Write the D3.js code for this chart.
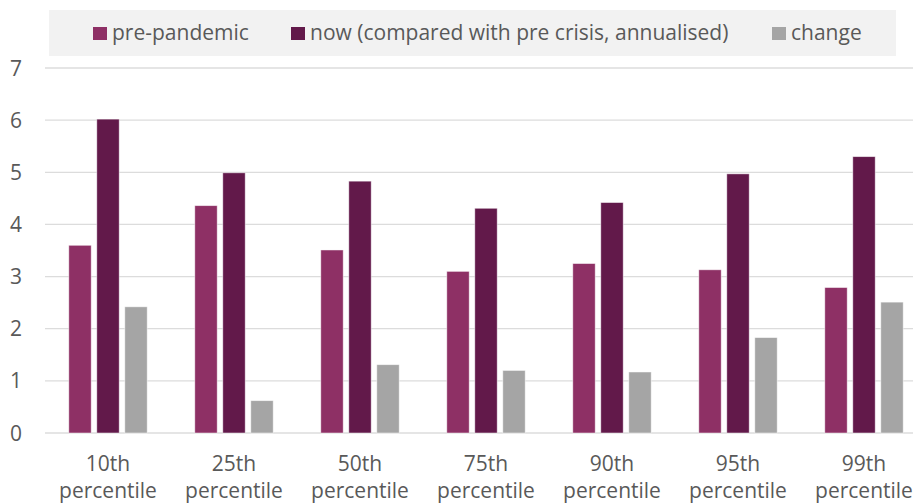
<!DOCTYPE html>
<html>
<head>
<meta charset="utf-8">
<script src="https://cdn.jsdelivr.net/npm/d3@7"></script>
<style>
  html, body { margin: 0; padding: 0; background: #fff; }
  svg { display: block; font-family: "Open Sans", sans-serif; }
</style>
</head>
<body>
<svg id="chart" width="913" height="503"></svg>
<script>
// Percentile groups along the x axis (two-line labels)
const categories = ["10th", "25th", "50th", "75th", "90th", "95th", "99th"];
const categorySub = "percentile";

// Series values
const prePandemic = [3.60, 4.36, 3.51, 3.10, 3.25, 3.13, 2.79];
const nowAnnualised = [6.02, 4.99, 4.83, 4.31, 4.42, 4.97, 5.30];
const change = [2.42, 0.62, 1.31, 1.20, 1.17, 1.83, 2.51];

const seriesNames = ["pre-pandemic", "now (compared with pre crisis, annualised)", "change"];
const seriesColors = ["#8E3065", "#62194A", "#A5A5A5"];

const yTicks = [0, 1, 2, 3, 4, 5, 6, 7];

const svg = d3.select("#chart");
const margin = { left: 45, top: 68, bottom: 433 };
const plotRight = 927;
const fontSize = 21;

const series = [prePandemic, nowAnnualised, change];
const rows = categories.map((c, i) => ({
  cat: c,
  vals: series.map((s, j) => ({ key: j, v: s[i] }))
}));

const x0 = d3.scaleBand()
  .domain(categories)
  .range([margin.left, plotRight])
  .paddingInner(1 / 3)
  .paddingOuter(1 / 6);

const x1 = d3.scaleBand()
  .domain(d3.range(series.length))
  .range([0, x0.bandwidth()])
  .paddingInner(0.2)
  .paddingOuter(0.1);

const y = d3.scaleLinear().domain([0, 7]).range([margin.bottom, margin.top]);

// Horizontal gridlines
svg.append("g")
  .selectAll("line")
  .data(yTicks)
  .join("line")
  .attr("x1", margin.left)
  .attr("x2", 913)
  .attr("y1", d => y(d))
  .attr("y2", d => y(d))
  .attr("stroke", "#DCDCDC")
  .attr("stroke-width", 1.3);

// Y tick labels
svg.append("g")
  .selectAll("text")
  .data(yTicks)
  .join("text")
  .attr("x", 22)
  .attr("y", d => y(d))
  .attr("dy", "0.36em")
  .attr("text-anchor", "end")
  .attr("font-size", fontSize)
  .attr("fill", "#595959")
  .text(d => d);

// Bars
const groups = svg.append("g")
  .selectAll("g")
  .data(rows)
  .join("g")
  .attr("transform", d => `translate(${x0(d.cat)},0)`);

groups.selectAll("rect")
  .data(d => d.vals)
  .join("rect")
  .attr("x", d => x1(d.key))
  .attr("width", x1.bandwidth())
  .attr("y", d => y(d.v))
  .attr("height", d => y(0) - y(d.v))
  .attr("fill", d => seriesColors[d.key])
  .attr("stroke", "#ffffff")
  .attr("stroke-opacity", 0.6)
  .attr("stroke-width", 0.8);

// X category labels
const xl = svg.append("g")
  .selectAll("text")
  .data(categories)
  .join("text")
  .attr("x", d => x0(d) + x0.bandwidth() / 2)
  .attr("y", 471)
  .attr("text-anchor", "middle")
  .attr("font-size", fontSize)
  .attr("fill", "#595959");
xl.append("tspan").attr("x", d => x0(d) + x0.bandwidth() / 2).text(d => d);
xl.append("tspan").attr("x", d => x0(d) + x0.bandwidth() / 2).attr("dy", 27).text(categorySub);

// Legend
const legend = svg.append("g");
legend.append("rect")
  .attr("x", 49).attr("y", 10)
  .attr("width", 847).attr("height", 46)
  .attr("fill", "#F2F2F2");

const legendX = [93, 291, 772];
const items = legend.selectAll("g.item")
  .data(seriesNames)
  .join("g")
  .attr("class", "item")
  .attr("transform", (d, i) => `translate(${legendX[i]},0)`);
items.append("rect")
  .attr("x", 0).attr("y", 27)
  .attr("width", 14).attr("height", 13)
  .attr("fill", (d, i) => seriesColors[i]);
items.append("text")
  .attr("x", 19).attr("y", 40)
  .attr("font-size", fontSize)
  .attr("fill", "#595959")
  .text(d => d);
</script>
</body>
</html>
